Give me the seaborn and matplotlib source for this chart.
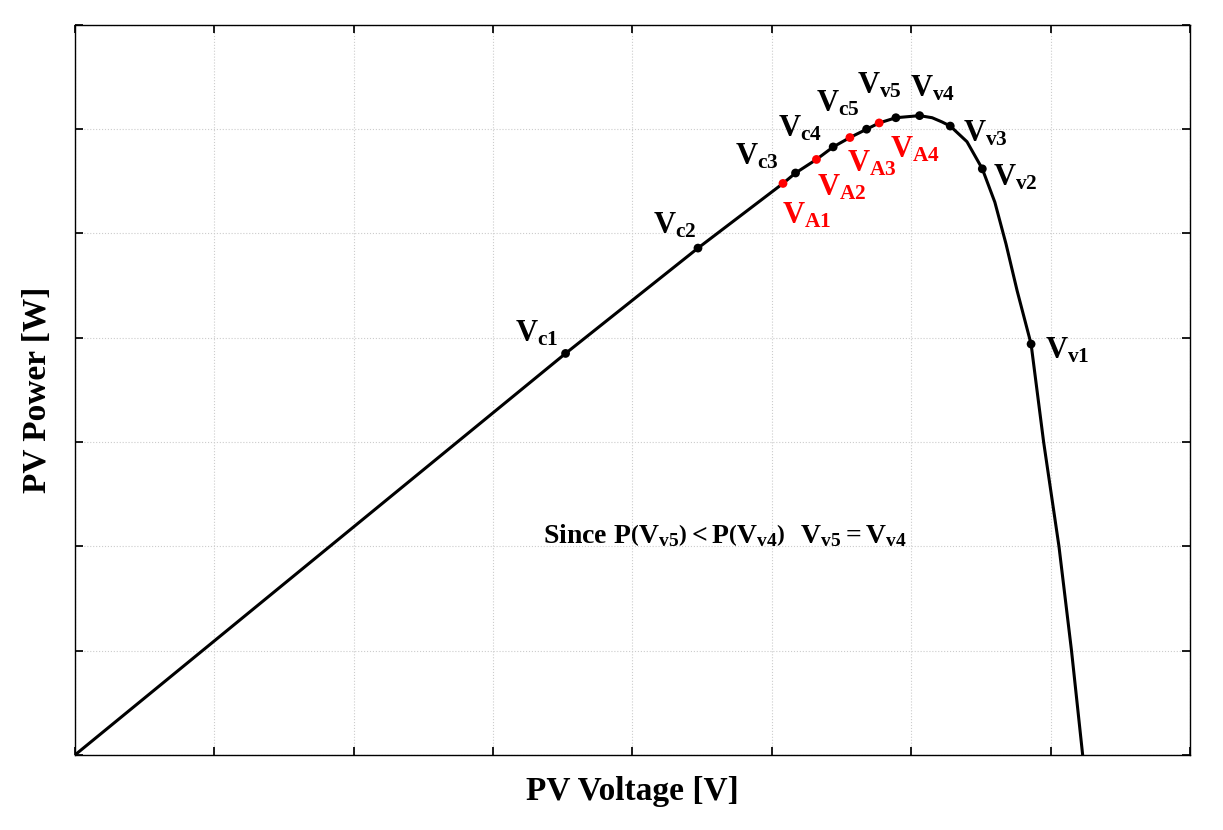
import matplotlib
matplotlib.use("Agg")
import matplotlib.pyplot as plt
import seaborn as sns

curve_v = [0, 3.52, 4.47, 5.08, 5.17, 5.32, 5.44, 5.56, 5.68, 5.77, 5.89, 6.06, 6.15, 6.22, 6.28, 6.40, 6.51, 6.60, 6.68, 6.76, 6.86, 6.95, 7.06, 7.15, 7.23]
curve_p = [0, 3.85, 4.86, 5.48, 5.58, 5.71, 5.83, 5.92, 6.00, 6.06, 6.11, 6.13, 6.11, 6.07, 6.03, 5.88, 5.62, 5.30, 4.90, 4.45, 3.94, 3.0, 2.0, 1.0, 0.0]

black_names = ["c1", "c2", "c3", "c4", "c5", "v5", "v4", "v3", "v2", "v1"]
black_v = [3.52, 4.47, 5.17, 5.44, 5.68, 5.89, 6.06, 6.28, 6.51, 6.86]
black_p = [3.85, 4.86, 5.58, 5.83, 6.00, 6.11, 6.13, 6.03, 5.62, 3.94]
black_lx = [3.31, 4.30, 4.89, 5.20, 5.47, 5.77, 6.15, 6.53, 6.75, 7.12]
black_ly = [4.04, 5.07, 5.74, 6.00, 6.24, 6.42, 6.39, 5.96, 5.53, 3.88]

red_names = ["A1", "A2", "A3", "A4"]
red_v = [5.08, 5.32, 5.56, 5.77]
red_p = [5.48, 5.71, 5.92, 6.06]
red_lx = [5.25, 5.50, 5.72, 6.03]
red_ly = [5.17, 5.44, 5.67, 5.80]

sns.set_theme(style="white")
plt.rcParams["font.family"] = ["Liberation Serif", "DejaVu Serif"]
plt.rcParams["mathtext.fontset"] = "custom"
plt.rcParams["mathtext.rm"] = "Liberation Serif:bold"
plt.rcParams["mathtext.bf"] = "Liberation Serif:bold"
plt.rcParams["mathtext.it"] = "Liberation Serif:bold"
plt.rcParams["text.color"] = "black"
plt.rcParams["axes.labelcolor"] = "black"

fig = plt.figure(figsize=(12.23, 8.3), dpi=100)
ax = fig.add_axes([0.0613, 0.0904, 0.9117, 0.8796])

sns.lineplot(x=curve_v, y=curve_p, ax=ax, color="black", lw=2.2, sort=False)
sns.scatterplot(x=black_v, y=black_p, ax=ax, color="black", s=40, zorder=5, edgecolor="none")
sns.scatterplot(x=red_v, y=red_p, ax=ax, color="red", s=40, zorder=5, edgecolor="none")

for n, x, y in zip(black_names, black_lx, black_ly):
    ax.text(x, y, r"$\mathrm{V_{%s}}$" % n, fontsize=22, ha="center", va="center", color="black")
for n, x, y in zip(red_names, red_lx, red_ly):
    ax.text(x, y, r"$\mathrm{V_{%s}}$" % n, fontsize=22, ha="center", va="center", color="red")

ax.text(4.66, 2.1, r"$\mathrm{Since\ P\left(V_{v5}\right) < P\left(V_{v4}\right)\ \ V_{v5} = V_{v4}}$",
        fontsize=20, ha="center", va="center", color="black")

ax.set_xlim(0, 8)
ax.set_ylim(0, 7)
ax.set_xticks(range(0, 9))
ax.set_yticks(range(0, 8))
ax.set_xticklabels([])
ax.set_yticklabels([])
ax.grid(True, color="#cccccc", ls=":", lw=0.8)
ax.tick_params(direction="in", length=6, color="black", bottom=True, left=True, top=True, right=True)
for s in ax.spines.values():
    s.set_color("black")
    s.set_linewidth(1.0)
ax.set_xlabel("PV Voltage [V]", fontsize=24, fontweight="bold", labelpad=12)
ax.set_ylabel("PV Power [W]", fontsize=24, fontweight="bold", labelpad=12)

fig.savefig("out.png", dpi=100)
